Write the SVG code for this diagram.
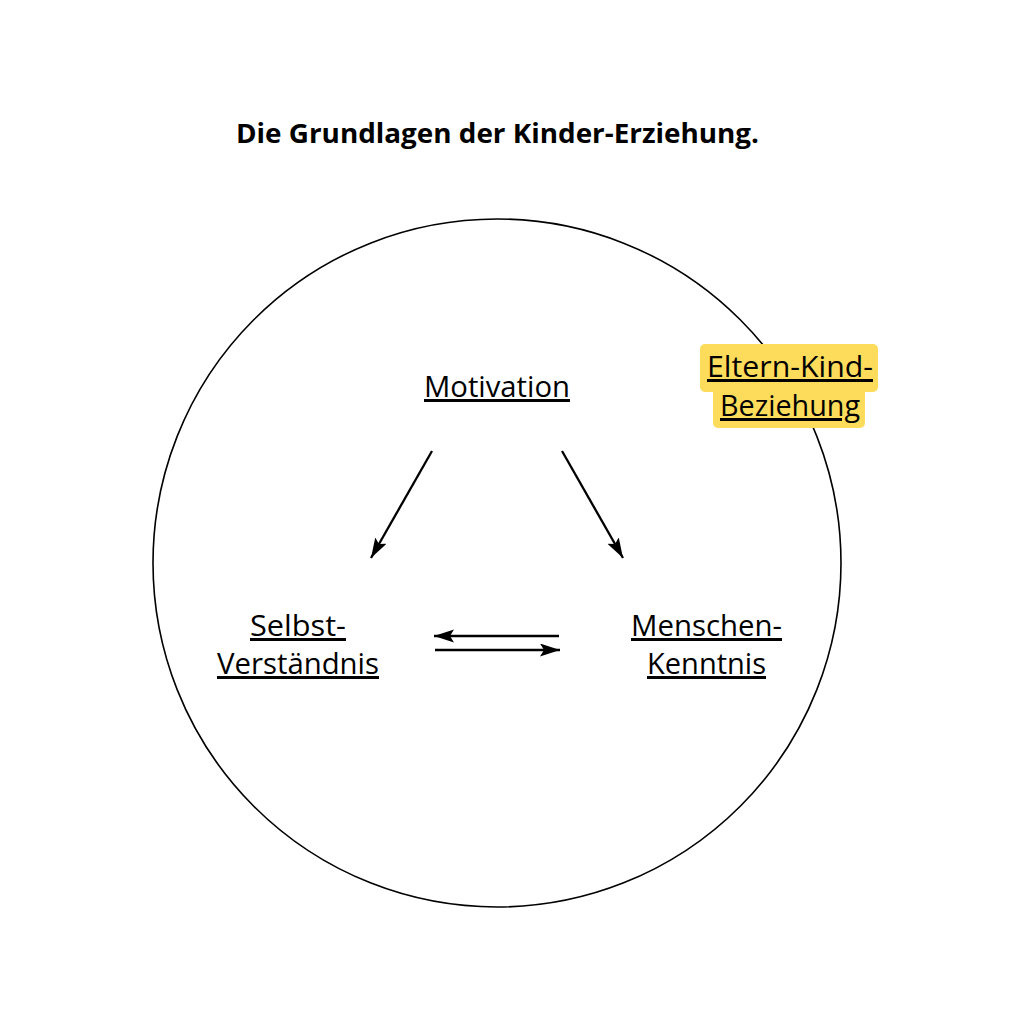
<svg xmlns="http://www.w3.org/2000/svg" width="1024" height="1024" viewBox="0 0 1024 1024">
<defs>
<style>
.t{font-family:"Open Sans","Liberation Sans",sans-serif;font-size:30px;fill:#000;text-decoration:underline;}
.title{font-family:"Open Sans","Inter","Liberation Sans",sans-serif;font-size:26px;font-weight:bold;fill:#000;}
.c{stroke:#000;stroke-width:2.3;fill:none;}
</style>
<marker id="ah" markerUnits="userSpaceOnUse" markerWidth="22" markerHeight="14" refX="20" refY="6.5" orient="auto">
<path d="M0,0 L20,6.5 L0,13 L4,6.5 Z" fill="#000"/>
</marker>
</defs>
<rect width="1024" height="1024" fill="#fff"/>
<g id="title"><text class="title" x="236" y="143" textLength="523" lengthAdjust="spacingAndGlyphs">Die Grundlagen der Kinder-Erziehung.</text></g>
<g id="circle"><circle cx="497" cy="563" r="344" fill="none" stroke="#000" stroke-width="1.6"/></g>
<g id="connectors">
<line class="c" x1="432" y1="451" x2="371" y2="558" marker-end="url(#ah)"/>
<line class="c" x1="562" y1="451" x2="623" y2="558" marker-end="url(#ah)"/>
<line class="c" x1="559" y1="636" x2="434" y2="636" marker-end="url(#ah)"/>
<line class="c" x1="435" y1="650" x2="560" y2="650" marker-end="url(#ah)"/>
</g>
<g id="motivation"><text class="t" x="424" y="397" textLength="146" lengthAdjust="spacingAndGlyphs">Motivation</text></g>
<g id="selbst">
<text class="t" x="250" y="636" textLength="96" lengthAdjust="spacingAndGlyphs">Selbst-</text>
<text class="t" x="217" y="674" textLength="162" lengthAdjust="spacingAndGlyphs">Verständnis</text>
</g>
<g id="menschen">
<text class="t" x="631" y="636" textLength="151" lengthAdjust="spacingAndGlyphs">Menschen-</text>
<text class="t" x="647" y="674" textLength="119" lengthAdjust="spacingAndGlyphs">Kenntnis</text>
</g>
<g id="eltern">
<rect x="700" y="344" width="178" height="48" rx="5" fill="#FDDC5C"/>
<rect x="713" y="386" width="152" height="42" rx="5" fill="#FDDC5C"/>
<text class="t" x="707" y="377" textLength="166" lengthAdjust="spacingAndGlyphs">Eltern-Kind-</text>
<text class="t" x="720" y="416" textLength="140" lengthAdjust="spacingAndGlyphs">Beziehung</text>
</g>
</svg>
